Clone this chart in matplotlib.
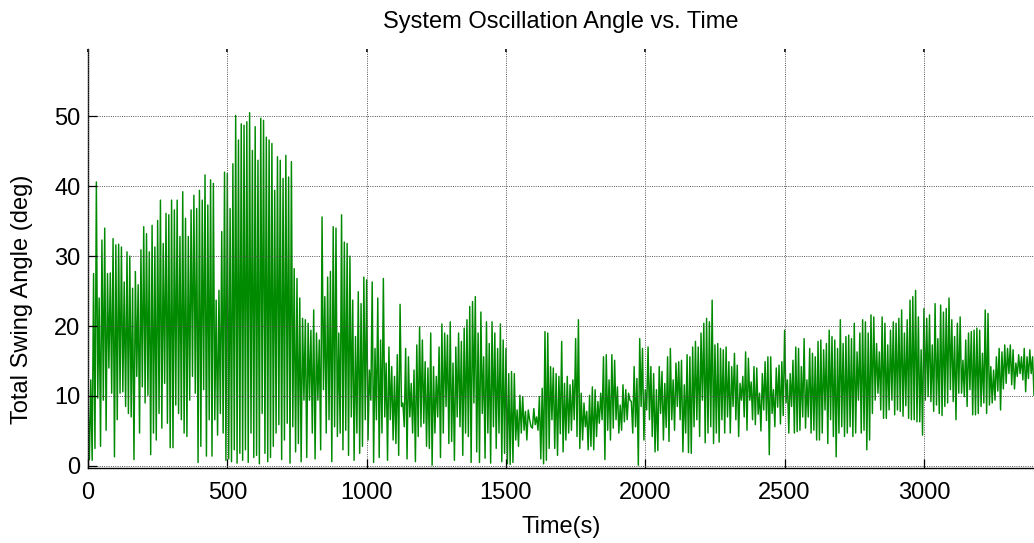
import matplotlib
matplotlib.use("Agg")
import matplotlib.pyplot as plt
import numpy as np

plt.rcParams["font.family"] = ["Liberation Sans", "DejaVu Sans"]

# ─── Data ─────────────────────────────────────────────────────────────────────
# top and bottom of each swing, about 10 s per swing, one row per 100 s
peaks = [
    9.2, 12.3, 27.5, 40.6, 24.0, 32.3, 34.0, 27.5, 27.6, 32.5,
    31.6, 31.7, 31.3, 26.3, 30.6, 30.0, 25.4, 27.8, 25.9, 30.9,
    34.2, 33.2, 30.6, 34.4, 31.3, 35.1, 38.0, 31.8, 36.1, 35.9,
    38.0, 36.6, 38.0, 32.8, 39.2, 35.4, 32.8, 36.6, 38.7, 36.8,
    39.4, 38.0, 41.6, 37.3, 40.9, 40.4, 23.7, 25.1, 33.5, 42.0,
    41.8, 36.8, 43.2, 50.1, 46.6, 48.9, 48.7, 49.2, 50.5, 45.1,
    48.5, 43.7, 49.7, 49.4, 47.0, 46.6, 46.1, 39.4, 44.2, 43.7,
    41.1, 44.4, 41.3, 43.5, 28.2, 26.8, 24.0, 21.1, 20.9, 20.4,
    19.4, 22.3, 19.0, 18.0, 35.6, 24.2, 27.0, 27.8, 34.2, 34.0,
    19.0, 35.9, 32.0, 31.8, 30.0, 23.7, 18.5, 24.9, 23.2, 27.0,
    26.6, 13.7, 26.3, 16.8, 24.0, 18.0, 26.8, 14.7, 17.0, 14.2,
    12.8, 15.9, 23.1, 9.0, 16.8, 15.6, 11.8, 13.7, 17.3, 19.9,
    18.0, 14.9, 14.0, 19.0, 14.2, 12.8, 17.0, 20.3, 19.0, 18.7,
    20.6, 14.7, 17.0, 19.0, 17.8, 19.7, 20.9, 22.8, 23.5, 24.2,
    19.0, 22.0, 15.6, 20.6, 17.5, 20.6, 19.0, 16.8, 20.3, 18.0,
    16.8, 13.2, 13.5, 13.2, 8.0, 10.1, 9.9, 7.8, 8.0, 5.6,
    8.2, 7.0, 9.9, 11.1, 19.2, 19.0, 14.2, 14.0, 13.2, 12.8,
    17.8, 11.8, 12.8, 11.6, 12.3, 18.2, 20.9, 10.4, 9.0, 7.8,
    10.1, 11.3, 10.9, 9.2, 10.4, 15.6, 15.9, 12.3, 15.9, 15.1,
    11.3, 8.7, 11.6, 10.9, 10.4, 9.2, 14.2, 12.5, 18.2, 16.8,
    10.9, 17.0, 14.2, 13.2, 10.9, 14.2, 13.5, 11.8, 15.6, 16.8,
    12.3, 14.7, 14.9, 15.1, 11.6, 15.9, 15.6, 17.0, 17.8, 17.0,
    19.0, 20.4, 21.1, 20.6, 23.7, 17.3, 17.5, 16.8, 16.6, 17.0,
    14.9, 14.2, 16.1, 14.4, 11.8, 12.8, 16.3, 15.4, 12.0, 14.2,
    14.0, 10.4, 13.2, 14.9, 15.6, 15.6, 10.9, 14.0, 14.4, 14.9,
    19.4, 12.3, 13.2, 15.1, 17.0, 16.8, 14.2, 18.2, 12.3, 16.8,
    16.1, 15.6, 17.8, 18.0, 16.6, 17.5, 19.4, 18.5, 18.0, 16.8,
    20.9, 17.5, 18.5, 18.7, 18.2, 20.4, 16.3, 19.0, 20.9, 20.6,
    19.0, 21.6, 21.3, 17.5, 16.3, 21.3, 20.4, 17.3, 19.4, 20.6,
    20.4, 21.1, 22.3, 19.0, 20.9, 23.7, 24.2, 25.1, 21.3, 16.6,
    22.5, 21.1, 21.6, 17.3, 23.2, 18.2, 23.0, 22.0, 22.5, 24.0,
    20.9, 18.5, 20.4, 21.3, 15.1, 18.0, 19.0, 19.2, 19.4, 19.7,
    19.4, 16.1, 22.3, 21.8, 14.2, 13.7, 15.6, 16.8, 16.3, 17.3,
    16.8, 17.3, 16.6, 14.7, 15.9, 15.6, 16.8, 15.6, 16.6, 15.6,
]
troughs = [
    0.9, 0.8, 2.5, 9.7, 2.8, 9.4, 5.1, 14.0, 10.4, 1.3,
    6.6, 10.4, 10.6, 8.5, 7.5, 7.0, 0.9, 12.8, 4.7, 11.3,
    9.0, 10.1, 1.6, 4.7, 3.7, 7.5, 5.4, 11.8, 6.1, 2.6,
    2.6, 8.7, 7.5, 6.6, 4.7, 4.2, 9.4, 12.8, 10.4, 0.5,
    2.8, 10.9, 1.4, 6.6, 1.4, 6.6, 4.4, 7.5, 4.7, 0.8,
    1.0, 0.6, 2.3, 0.4, 1.8, 0.8, 2.3, 0.5, 4.7, 1.2,
    1.5, 0.3, 7.5, 1.8, 0.6, 1.2, 2.8, 4.7, 5.9, 0.9,
    3.7, 6.1, 0.4, 5.6, 2.0, 3.2, 0.6, 9.4, 1.2, 9.4,
    4.7, 1.0, 9.4, 2.3, 10.9, 4.7, 6.6, 0.6, 5.6, 4.2,
    4.7, 2.3, 5.1, 1.5, 7.0, 0.8, 4.7, 1.8, 2.8, 6.6,
    3.7, 9.4, 0.5, 6.6, 1.2, 4.7, 7.0, 0.8, 6.6, 3.7,
    3.2, 1.5, 8.5, 5.6, 1.0, 7.0, 4.7, 0.6, 4.2, 5.6,
    6.1, 2.8, 2.5, 0.1, 4.7, 7.0, 1.2, 4.7, 8.5, 3.2,
    3.5, 0.8, 7.0, 5.6, 1.5, 4.7, 4.2, 0.5, 9.0, 2.0,
    0.5, 7.5, 1.1, 4.7, 0.4, 5.6, 2.5, 4.7, 0.6, 1.8,
    0.3, 0.2, 0.5, 3.7, 2.8, 4.7, 5.1, 3.7, 6.6, 5.4,
    5.9, 5.1, 1.0, 0.3, 0.8, 2.5, 6.6, 2.5, 1.5, 4.6,
    2.0, 3.7, 4.7, 5.1, 6.6, 4.2, 2.5, 3.7, 5.6, 2.3,
    2.8, 2.3, 4.2, 6.1, 6.6, 0.9, 5.1, 3.7, 5.4, 6.6,
    4.7, 5.1, 6.3, 6.6, 9.4, 4.7, 5.6, 0.1, 8.5, 3.7,
    8.0, 6.6, 4.2, 2.0, 2.2, 7.5, 3.7, 5.5, 3.5, 6.6,
    5.1, 8.5, 6.6, 2.0, 4.7, 1.9, 1.8, 5.6, 6.6, 4.2,
    9.4, 3.3, 4.7, 5.6, 3.2, 4.7, 3.4, 6.6, 4.7, 7.0,
    4.7, 8.5, 6.6, 4.2, 9.4, 7.0, 5.1, 9.4, 6.6, 5.9,
    7.4, 5.0, 8.0, 6.5, 1.6, 7.5, 5.6, 8.4, 6.0, 7.2,
    9.0, 4.7, 8.5, 4.7, 4.9, 5.1, 7.0, 5.4, 7.0, 4.7,
    5.1, 3.7, 3.7, 4.7, 8.0, 3.2, 6.6, 4.2, 1.3, 4.7,
    5.6, 4.2, 4.7, 5.6, 4.2, 4.7, 9.4, 4.7, 5.1, 2.3,
    3.7, 7.5, 9.4, 10.4, 8.0, 6.8, 6.8, 8.0, 9.4, 7.3,
    8.0, 7.8, 7.1, 8.6, 6.8, 6.6, 6.6, 6.3, 6.3, 4.4,
    9.4, 9.9, 9.2, 7.8, 8.7, 7.5, 7.2, 8.5, 9.0, 10.9,
    9.2, 6.6, 10.4, 10.4, 9.9, 8.5, 10.9, 7.3, 7.3, 7.5,
    8.5, 9.0, 7.5, 8.7, 9.0, 9.4, 10.7, 8.0, 11.0, 11.8,
    13.2, 11.6, 11.0, 12.8, 13.2, 12.3, 10.6, 12.5, 13.2, 10.1,
]
swing_period = 10.0  # s

x_ticks = [0, 500, 1000, 1500, 2000, 2500, 3000]
y_ticks = [0, 10, 20, 30, 40, 50]

angle = np.column_stack([peaks, troughs]).ravel()
time = np.arange(len(angle)) * swing_period / 2

# ─── Chart ────────────────────────────────────────────────────────────────────
fig = plt.figure(figsize=(10.34, 5.43), dpi=100)
ax = fig.add_axes([0.0851, 0.1381, 0.9149, 0.7716])

ax.plot(time, angle, color="#008a00", linewidth=1.05)

ax.set_xlim(0, 3395)
ax.set_ylim(-0.3, 59.6)
ax.set_xticks(x_ticks)
ax.set_yticks(y_ticks)
ax.grid(True, color="#555555", linestyle=(0, (1, 1.3)), linewidth=0.7)
ax.set_axisbelow(False)

for side in ("top", "right"):
    ax.spines[side].set_visible(False)
for side in ("left", "bottom"):
    ax.spines[side].set_linewidth(1.0)

ax.tick_params(direction="in", length=6.5, width=0.9, labelsize=17)
ax.tick_params(axis="x", pad=10)
ax.tick_params(axis="y", pad=5.5)

top = ax.secondary_xaxis("top")
top.set_xticks(x_ticks)
top.tick_params(direction="in", length=2, width=1.2, labeltop=False)
top.spines["top"].set_visible(False)

ax.set_title("System Oscillation Angle vs. Time", fontsize=17, pad=15)
ax.set_xlabel("Time(s)", fontsize=17, labelpad=9)
ax.set_ylabel("Total Swing Angle (deg)", fontsize=17)
ax.yaxis.set_label_coords(-0.058, 0.403)

fig.savefig("out.png", dpi=100)
